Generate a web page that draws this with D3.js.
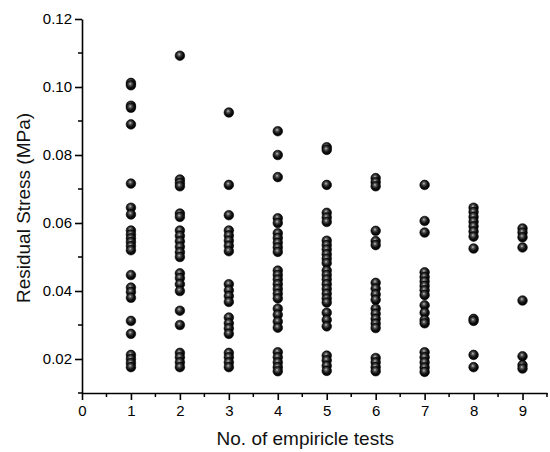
<!DOCTYPE html>
<html>
<head>
<meta charset="utf-8">
<script src="https://cdn.jsdelivr.net/npm/d3@7"></script>
<style>
  html, body { margin: 0; padding: 0; background: #fff; }
  svg { display: block; font-family: Arial, "Liberation Sans", sans-serif; }
</style>
</head>
<body>
<svg id="chart" width="550" height="452"></svg>
<script>
// ---- data ----
const testNumbers = [1, 2, 3, 4, 5, 6, 7, 8, 9];
const test1 = [0.1012, 0.1005, 0.0945, 0.0939, 0.0890, 0.0716, 0.0645, 0.0625,
  0.0578, 0.0566, 0.0555, 0.0544, 0.0532, 0.0520, 0.0447, 0.0410, 0.0397, 0.0380,
  0.0312, 0.0274, 0.0212, 0.0200, 0.0188, 0.0176];
const test2 = [0.1092, 0.0728, 0.0718, 0.0708, 0.0628, 0.0618, 0.0578, 0.0562,
  0.0546, 0.0530, 0.0514, 0.0500, 0.0452, 0.0438, 0.0420, 0.0400, 0.0342, 0.0300,
  0.0218, 0.0205, 0.0190, 0.0176];
const test3 = [0.0925, 0.0712, 0.0623, 0.0578, 0.0563, 0.0548, 0.0533, 0.0517,
  0.0420, 0.0402, 0.0385, 0.0368, 0.0322, 0.0305, 0.0290, 0.0274, 0.0218, 0.0205,
  0.0190, 0.0176];
const test4 = [0.0870, 0.0800, 0.0735, 0.0614, 0.0600, 0.0570, 0.0556, 0.0542,
  0.0528, 0.0515, 0.0460, 0.0447, 0.0434, 0.0420, 0.0406, 0.0392, 0.0378, 0.0348,
  0.0330, 0.0310, 0.0292, 0.0220, 0.0205, 0.0190, 0.0176, 0.0164];
const test5 = [0.0823, 0.0815, 0.0712, 0.0630, 0.0616, 0.0603, 0.0548, 0.0535,
  0.0522, 0.0508, 0.0495, 0.0482, 0.0460, 0.0447, 0.0434, 0.0420, 0.0406, 0.0392,
  0.0378, 0.0366, 0.0336, 0.0315, 0.0296, 0.0210, 0.0196, 0.0180, 0.0165];
const test6 = [0.0732, 0.0720, 0.0708, 0.0577, 0.0547, 0.0535, 0.0424, 0.0407,
  0.0390, 0.0374, 0.0348, 0.0333, 0.0318, 0.0304, 0.0291, 0.0203, 0.0190, 0.0176,
  0.0164];
const test7 = [0.0712, 0.0606, 0.0572, 0.0455, 0.0441, 0.0428, 0.0415, 0.0402,
  0.0388, 0.0358, 0.0336, 0.0315, 0.0305, 0.0220, 0.0205, 0.0190, 0.0175, 0.0162];
const test8 = [0.0645, 0.0632, 0.0618, 0.0604, 0.0590, 0.0575, 0.0560, 0.0525,
  0.0318, 0.0312, 0.0212, 0.0176];
const test9 = [0.0584, 0.0572, 0.0558, 0.0528, 0.0372, 0.0208, 0.0182, 0.0172];
const stressByTest = [test1, test2, test3, test4, test5, test6, test7, test8, test9];

const xTickValues = [0, 1, 2, 3, 4, 5, 6, 7, 8, 9];
const yTickValues = [0.02, 0.04, 0.06, 0.08, 0.10, 0.12];
const xTitle = "No. of empiricle tests";
const yTitle = "Residual Stress (MPa)";

// ---- layout ----
const margin = { left: 82, top: 19, right: 3, bottom: 59 };
const W = 550, H = 452;
const innerW = W - margin.left - margin.right;
const innerH = H - margin.top - margin.bottom;

const svg = d3.select("#chart");

const defs = svg.append("defs");
const grad = defs.append("radialGradient")
  .attr("id", "sphere").attr("cx", "45%").attr("cy", "40%").attr("r", "60%")
  .attr("fx", "42%").attr("fy", "35%");
grad.append("stop").attr("offset", "0%").attr("stop-color", "#c8c8c8");
grad.append("stop").attr("offset", "25%").attr("stop-color", "#555");
grad.append("stop").attr("offset", "60%").attr("stop-color", "#111");
grad.append("stop").attr("offset", "100%").attr("stop-color", "#000");

const g = svg.append("g").attr("transform", `translate(${margin.left},${margin.top})`);

const x = d3.scaleLinear().domain([0, 9.5]).range([0, innerW]);
const y = d3.scaleLinear().domain([0.01, 0.12]).range([innerH, 0]);

// points
const points = [];
testNumbers.forEach((t, i) => stressByTest[i].forEach(v => points.push({ t, v })));
g.append("g").selectAll("circle").data(points).join("circle")
  .attr("cx", d => x(d.t))
  .attr("cy", d => y(d.v))
  .attr("r", 4.8)
  .attr("fill", "url(#sphere)")
  .attr("stroke", "#000")
  .attr("stroke-width", 0.6);

// x axis
const xMinor = d3.range(0.5, 9.6, 1);
const xAxisG = g.append("g").attr("transform", `translate(0,${innerH})`);
xAxisG.call(d3.axisBottom(x).tickValues(xTickValues).tickFormat(d3.format("d"))
  .tickSize(7).tickSizeOuter(0));
xAxisG.selectAll(".tick.minor").data(xMinor).join("line")
  .attr("class", "minor")
  .attr("x1", d => x(d)).attr("x2", d => x(d)).attr("y1", 0).attr("y2", 4)
  .attr("stroke", "#000").attr("stroke-width", 1.5);

// y axis
const yMinor = [0.01, 0.03, 0.05, 0.07, 0.09, 0.11];
const yAxisG = g.append("g");
yAxisG.call(d3.axisLeft(y).tickValues(yTickValues).tickFormat(d3.format(".2f"))
  .tickSize(7).tickSizeOuter(0));
yAxisG.selectAll("line.minor").data(yMinor).join("line")
  .attr("class", "minor")
  .attr("y1", d => y(d)).attr("y2", d => y(d)).attr("x1", 0).attr("x2", -4)
  .attr("stroke", "#000").attr("stroke-width", 1.5);

[xAxisG, yAxisG].forEach(a => {
  a.select(".domain").attr("stroke", "#000").attr("stroke-width", 1.6);
  a.selectAll(".tick line").attr("stroke", "#000").attr("stroke-width", 1.6);
  a.selectAll(".tick text").attr("fill", "#000").style("font-size", "15px")
    .style("font-family", "Arial, 'Liberation Sans', sans-serif");
});
xAxisG.selectAll(".tick text").attr("dy", "0.85em").attr("y", 10);
yAxisG.selectAll(".tick text").attr("x", -10);

// titles
svg.append("text")
  .attr("x", margin.left + x(4.5) + 3)
  .attr("y", 445)
  .attr("text-anchor", "middle")
  .style("font-size", "19px")
  .attr("fill", "#111")
  .text(xTitle);

svg.append("text")
  .attr("transform", `translate(30,${margin.top + y(0.065) + 2}) rotate(-90)`)
  .attr("text-anchor", "middle")
  .style("font-size", "19px")
  .attr("fill", "#111")
  .text(yTitle);
</script>
</body>
</html>
